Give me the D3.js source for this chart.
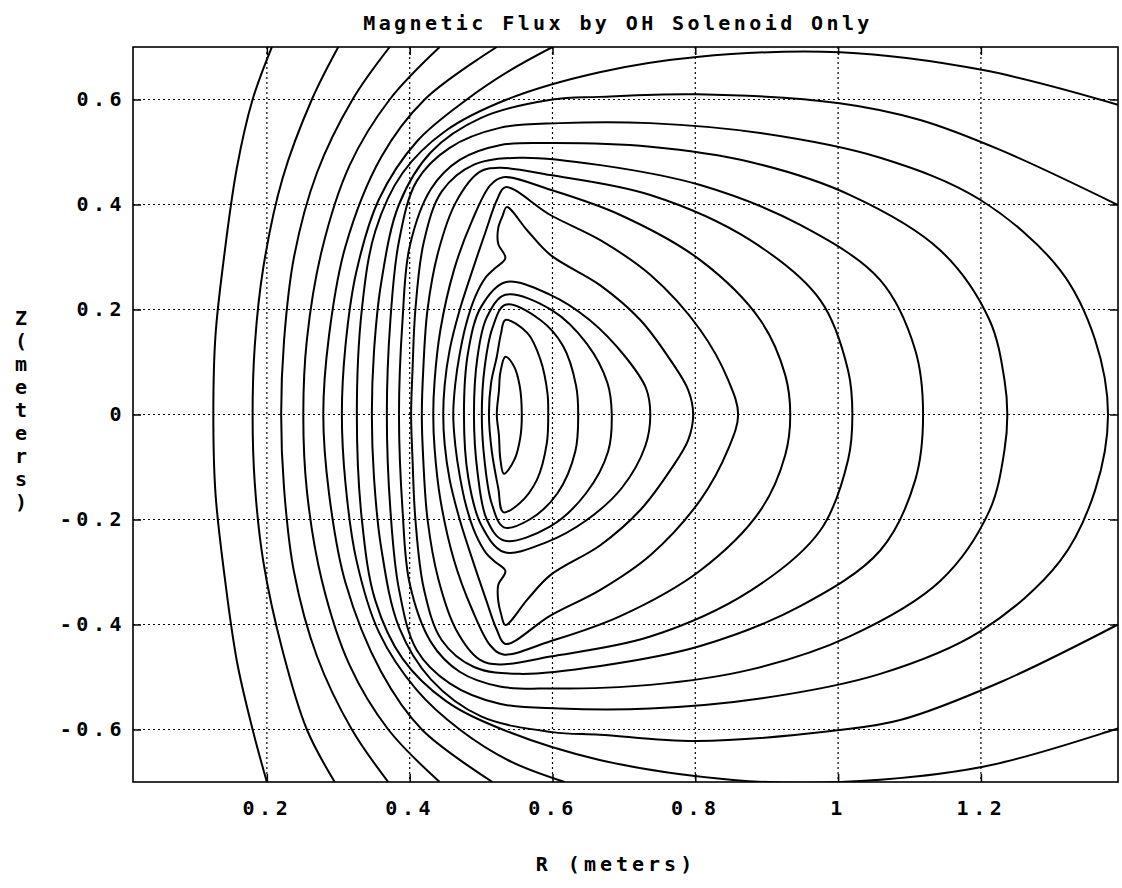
<!DOCTYPE html>
<html>
<head>
<meta charset="utf-8">
<script src="https://cdn.jsdelivr.net/npm/d3@7"></script>
<style>
  body { margin: 0; background: #fff; }
  text { font-family: "DejaVu Sans Mono", "Liberation Mono", monospace; font-weight: bold; fill: #000; }
</style>
</head>
<body>
<div id="figure-holder"></div>
<script>
// axis ranges and ticks
const rDomain = [0.0125, 1.392];
const zDomain = [-0.7, 0.7];
const rTicks = [0.2, 0.4, 0.6, 0.8, 1, 1.2];
const zTicks = [-0.6, -0.4, -0.2, 0, 0.2, 0.4, 0.6];
const titleText = 'Magnetic Flux by OH Solenoid Only';
const xLabel = 'R (meters)';
const yLabel = 'Z (meters)';

// closed flux contours, [R, Z], innermost first
const c1 = [[0.534,0.11],[0.546,0.092],[0.554,0.055],[0.557,0],[0.555,-0.043],[0.547,-0.085],[0.532,-0.113],[0.527,-0.085],[0.525,-0.04],[0.522,0],[0.525,0.045],[0.527,0.08]];
const c2 = [[0.534,0.18],[0.565,0.155],[0.583,0.105],[0.593,0.04],[0.594,0],[0.592,-0.055],[0.578,-0.125],[0.554,-0.169],[0.531,-0.186],[0.524,-0.14],[0.515,-0.07],[0.511,0],[0.514,0.06],[0.522,0.11],[0.528,0.155]];
const c3 = [[0.534,0.209],[0.583,0.18],[0.615,0.13],[0.633,0.055],[0.636,0],[0.632,-0.07],[0.607,-0.15],[0.568,-0.2],[0.532,-0.215],[0.515,-0.17],[0.505,-0.09],[0.501,0],[0.505,0.09],[0.516,0.165]];
const c4 = [[0.534,0.228],[0.6,0.198],[0.648,0.135],[0.677,0.06],[0.683,0],[0.678,-0.07],[0.647,-0.15],[0.597,-0.213],[0.532,-0.24],[0.508,-0.2],[0.495,-0.11],[0.49,0],[0.495,0.11],[0.508,0.185]];
const c5 = [[0.534,0.252],[0.597,0.228],[0.652,0.18],[0.702,0.11],[0.731,0.05],[0.737,0],[0.73,-0.06],[0.697,-0.14],[0.647,-0.202],[0.592,-0.243],[0.532,-0.262],[0.5,-0.21],[0.482,-0.12],[0.476,0],[0.482,0.12],[0.5,0.205]];
const c6 = [[0.536,0.395],[0.565,0.35],[0.597,0.304],[0.667,0.246],[0.723,0.18],[0.765,0.104],[0.79,0.047],[0.797,0],[0.79,-0.049],[0.765,-0.106],[0.723,-0.182],[0.667,-0.249],[0.597,-0.306],[0.565,-0.352],[0.534,-0.401],[0.528,-0.38],[0.524,-0.355],[0.524,-0.325],[0.534,-0.298],[0.519,-0.28],[0.507,-0.264],[0.492,-0.227],[0.479,-0.174],[0.47,-0.116],[0.464,-0.06],[0.461,0],[0.464,0.06],[0.47,0.115],[0.479,0.172],[0.492,0.225],[0.507,0.262],[0.519,0.278],[0.534,0.298],[0.524,0.325],[0.524,0.355],[0.53,0.378]];
const c7 = [[0.534,0.433],[0.597,0.38],[0.667,0.332],[0.737,0.266],[0.807,0.161],[0.846,0.066],[0.86,0],[0.846,-0.066],[0.807,-0.163],[0.737,-0.268],[0.667,-0.334],[0.597,-0.383],[0.534,-0.437],[0.522,-0.41],[0.507,-0.353],[0.488,-0.277],[0.47,-0.2],[0.456,-0.124],[0.449,-0.057],[0.447,0],[0.449,0.056],[0.456,0.123],[0.47,0.199],[0.488,0.275],[0.507,0.351],[0.522,0.408]];
const c8 = [[0.531,0.452],[0.597,0.428],[0.695,0.38],[0.807,0.294],[0.891,0.18],[0.926,0.075],[0.933,0],[0.926,-0.077],[0.891,-0.183],[0.807,-0.297],[0.695,-0.384],[0.597,-0.432],[0.531,-0.457],[0.513,-0.44],[0.487,-0.37],[0.462,-0.277],[0.443,-0.162],[0.435,-0.067],[0.433,0],[0.435,0.066],[0.443,0.161],[0.462,0.275],[0.487,0.368],[0.513,0.437]];
const c9 = [[0.526,0.47],[0.597,0.456],[0.737,0.418],[0.877,0.332],[0.975,0.218],[1.014,0.084],[1.02,0],[1.014,-0.086],[0.975,-0.221],[0.877,-0.336],[0.737,-0.423],[0.597,-0.461],[0.526,-0.476],[0.498,-0.467],[0.465,-0.41],[0.44,-0.313],[0.425,-0.2],[0.419,-0.086],[0.417,0],[0.419,0.085],[0.425,0.2],[0.44,0.31],[0.465,0.405],[0.498,0.462]];
const c10 = [[0.554,0.489],[0.667,0.475],[0.807,0.437],[0.947,0.361],[1.059,0.256],[1.108,0.123],[1.119,0],[1.108,-0.125],[1.059,-0.259],[0.947,-0.365],[0.807,-0.441],[0.667,-0.479],[0.554,-0.494],[0.49,-0.481],[0.445,-0.43],[0.42,-0.333],[0.408,-0.2],[0.404,-0.086],[0.402,0],[0.404,0.085],[0.408,0.2],[0.42,0.33],[0.445,0.425],[0.49,0.476]];
const c11 = [[0.526,0.513],[0.597,0.517],[0.737,0.51],[0.877,0.481],[1.017,0.418],[1.143,0.313],[1.212,0.18],[1.233,0.066],[1.237,0],[1.233,-0.068],[1.212,-0.183],[1.143,-0.317],[1.017,-0.422],[0.877,-0.486],[0.737,-0.515],[0.597,-0.522],[0.526,-0.518],[0.47,-0.49],[0.43,-0.434],[0.4,-0.322],[0.39,-0.182],[0.385,0],[0.39,0.18],[0.4,0.32],[0.43,0.43],[0.47,0.485]];
const c12 = [[0.526,0.546],[0.61,0.555],[0.737,0.555],[0.891,0.536],[1.059,0.489],[1.199,0.409],[1.311,0.275],[1.36,0.142],[1.378,0],[1.36,-0.144],[1.311,-0.279],[1.199,-0.413],[1.059,-0.494],[0.891,-0.541],[0.737,-0.56],[0.61,-0.56],[0.526,-0.551],[0.456,-0.512],[0.41,-0.449],[0.385,-0.333],[0.373,-0.182],[0.368,0],[0.373,0.18],[0.385,0.33],[0.41,0.445],[0.456,0.508]];

// open contours that leave the box, [R, Z], top end first
const o1 = [[1.392,0.399],[1.227,0.504],[1.115,0.561],[1.002,0.593],[0.802,0.61],[0.666,0.605],[0.6,0.6],[0.5,0.565],[0.43,0.5],[0.385,0.4],[0.36,0.25],[0.35,0.12],[0.347,0],[0.35,-0.12],[0.36,-0.253],[0.385,-0.405],[0.43,-0.505],[0.5,-0.575],[0.6,-0.605],[0.666,-0.61],[0.802,-0.622],[1.002,-0.601],[1.087,-0.582],[1.227,-0.51],[1.392,-0.4]];
const o2 = [[1.392,0.59],[1.203,0.656],[1.003,0.69],[0.802,0.681],[0.666,0.652],[0.536,0.6],[0.45,0.54],[0.39,0.46],[0.352,0.35],[0.333,0.2],[0.326,0],[0.333,-0.2],[0.352,-0.355],[0.39,-0.465],[0.45,-0.545],[0.53,-0.6],[0.666,-0.658],[0.853,-0.696],[1.003,-0.7],[1.203,-0.671],[1.385,-0.601],[1.392,-0.598]];
const o3 = [[0.6,0.7],[0.54,0.655],[0.48,0.6],[0.41,0.52],[0.357,0.41],[0.325,0.27],[0.31,0.13],[0.305,0],[0.31,-0.13],[0.325,-0.275],[0.357,-0.415],[0.41,-0.525],[0.47,-0.6],[0.54,-0.66],[0.617,-0.7]];
const o4 = [[0.522,0.7],[0.421,0.6],[0.36,0.49],[0.31,0.32],[0.287,0.15],[0.279,0],[0.287,-0.15],[0.31,-0.32],[0.36,-0.49],[0.417,-0.6],[0.516,-0.7]];
const o5 = [[0.442,0.7],[0.372,0.6],[0.316,0.475],[0.277,0.313],[0.256,0.142],[0.251,0],[0.256,-0.145],[0.277,-0.316],[0.316,-0.478],[0.37,-0.6],[0.442,-0.7]];
const o6 = [[0.372,0.7],[0.32,0.6],[0.27,0.46],[0.238,0.3],[0.224,0.14],[0.22,0],[0.224,-0.14],[0.238,-0.3],[0.27,-0.46],[0.319,-0.6],[0.37,-0.7]];
const o7 = [[0.3,0.7],[0.263,0.6],[0.222,0.45],[0.195,0.28],[0.183,0.13],[0.18,0],[0.183,-0.13],[0.195,-0.28],[0.222,-0.45],[0.256,-0.6],[0.295,-0.7]];
const o8 = [[0.207,0.7],[0.18,0.6],[0.158,0.47],[0.14,0.3],[0.128,0.15],[0.125,0],[0.128,-0.15],[0.14,-0.3],[0.158,-0.47],[0.18,-0.6],[0.2,-0.7]];

const closedContours = [c1, c2, c3, c4, c5, c6, c7, c8, c9, c10, c11, c12];
const openContours = [o1, o2, o3, o4, o5, o6, o7, o8];

const PLOT = {
    realWidth: 1122, realHeight: 888,
    margin: { left: 133, top: 47 },
    width: 985, height: 735,
    fontSize: 20
};

const drawFlux = () => {
    const { realWidth, realHeight, margin, width, height, fontSize } = PLOT;

    const svg = d3.select('#figure-holder').append('svg')
        .attr('width', realWidth)
        .attr('height', realHeight)
        .style('display', 'block');

    const g = svg.append('g')
        .attr('transform', `translate(${margin.left}, ${margin.top})`);

    const x = d3.scaleLinear().domain(rDomain).range([0, width]);
    const y = d3.scaleLinear().domain(zDomain).range([height, 0]);

    // dotted grid
    g.append('g').selectAll('line').data(rTicks).join('line')
        .attr('x1', d => x(d)).attr('x2', d => x(d))
        .attr('y1', 0).attr('y2', height)
        .attr('stroke', '#000').attr('stroke-width', 1.2)
        .attr('stroke-dasharray', '2,3');
    g.append('g').selectAll('line').data(zTicks).join('line')
        .attr('x1', 0).attr('x2', width)
        .attr('y1', d => y(d)).attr('y2', d => y(d))
        .attr('stroke', '#000').attr('stroke-width', 1.2)
        .attr('stroke-dasharray', '2,3');

    // contours, clipped to the frame
    svg.append('defs').append('clipPath').attr('id', 'plot-clip')
        .append('rect').attr('width', width).attr('height', height);

    const cg = g.append('g').attr('clip-path', 'url(#plot-clip)');
    const closedLine = d3.line().x(d => x(d[0])).y(d => y(d[1])).curve(d3.curveCatmullRomClosed.alpha(0.5));
    const openLine = d3.line().x(d => x(d[0])).y(d => y(d[1])).curve(d3.curveCatmullRom.alpha(0.5));

    cg.selectAll('path.closed').data(closedContours).join('path')
        .attr('class', 'closed')
        .attr('d', closedLine)
        .attr('fill', 'none').attr('stroke', '#000').attr('stroke-width', 2)
        .attr('stroke-linejoin', 'round');
    cg.selectAll('path.open').data(openContours).join('path')
        .attr('class', 'open')
        .attr('d', openLine)
        .attr('fill', 'none').attr('stroke', '#000').attr('stroke-width', 2)
        .attr('stroke-linejoin', 'round');

    // axes with inward ticks
    const fmt = d => String(d);
    g.append('g').attr('id', 'x-axis')
        .attr('transform', `translate(0, ${height})`)
        .call(d3.axisBottom(x).tickValues(rTicks).tickFormat(fmt).tickSizeInner(-8).tickSizeOuter(0).tickPadding(19));
    g.append('g').attr('id', 'y-axis')
        .call(d3.axisLeft(y).tickValues(zTicks).tickFormat(fmt).tickSizeInner(-8).tickSizeOuter(0).tickPadding(7));
    g.append('g').call(d3.axisTop(x).tickValues(rTicks).tickFormat('').tickSizeInner(-8).tickSizeOuter(0));
    g.append('g').attr('transform', `translate(${width}, 0)`)
        .call(d3.axisRight(y).tickValues(zTicks).tickFormat('').tickSizeInner(-8).tickSizeOuter(0));

    g.selectAll('.domain').remove();
    g.selectAll('.tick line').attr('stroke', '#000').attr('stroke-width', 1.5);
    g.selectAll('#x-axis text, #y-axis text')
        .style('font-size', `${fontSize}px`)
        .style('letter-spacing', '4.5px')
        .style('font-family', '"DejaVu Sans Mono", monospace')
        .style('font-weight', 'bold');

    // frame
    g.append('rect')
        .attr('width', width).attr('height', height)
        .attr('fill', 'none').attr('stroke', '#000').attr('stroke-width', 1.6);

    // title
    svg.append('text')
        .text(titleText)
        .attr('x', 618).attr('y', 30)
        .attr('text-anchor', 'middle')
        .style('font-size', `${fontSize}px`)
        .style('letter-spacing', '3.4px');

    // x label
    svg.append('text')
        .text(xLabel)
        .attr('x', 616).attr('y', 871)
        .attr('text-anchor', 'middle')
        .style('font-size', `${fontSize}px`)
        .style('letter-spacing', '4px');

    // y label, one character per line
    const chars = yLabel.replace(' ', '').split('');
    svg.append('g').selectAll('text').data(chars).join('text')
        .text(d => d)
        .attr('x', 21)
        .attr('y', (d, i) => 325 + i * 23)
        .attr('text-anchor', 'middle')
        .style('font-size', `${fontSize}px`);
};

drawFlux();
</script>
</body>
</html>
